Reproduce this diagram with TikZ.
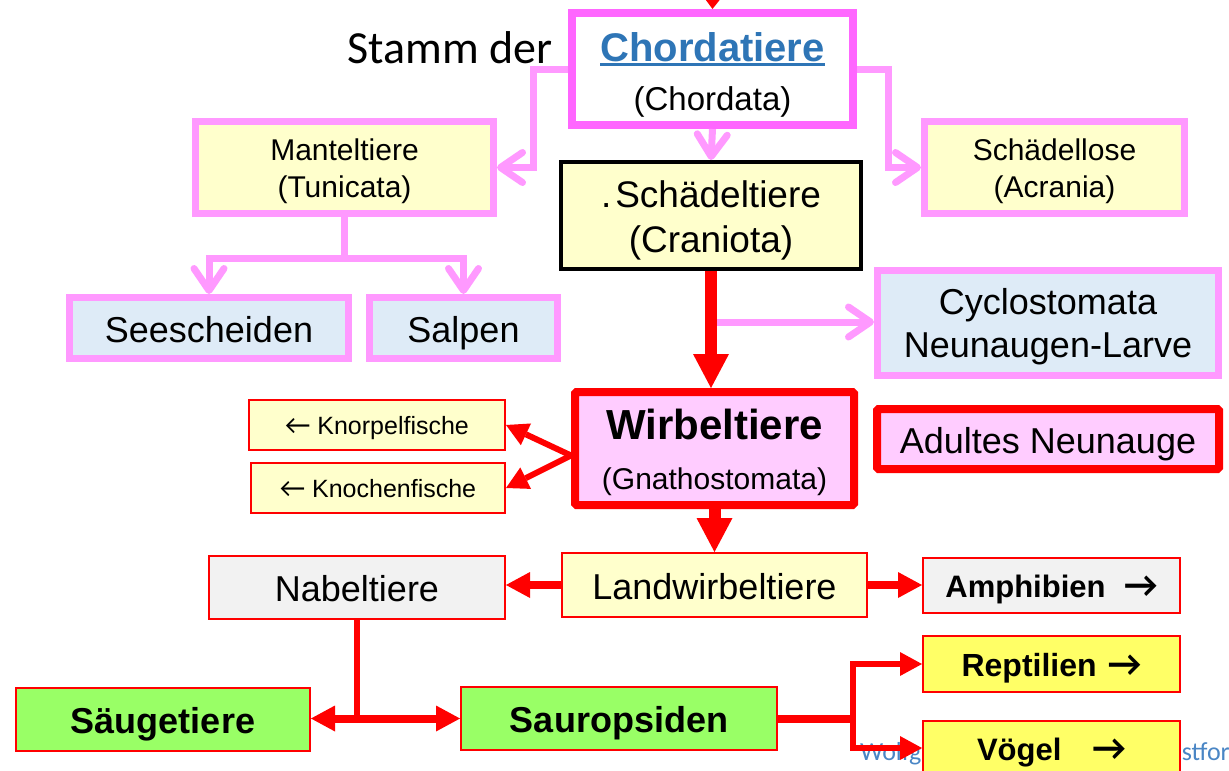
\documentclass[tikz,border=0pt]{standalone}
\usepackage{fontspec}
\setmainfont{Liberation Sans}
\newfontfamily\calib{Carlito}
\usetikzlibrary{arrows.meta,calc}
\definecolor{magc}{HTML}{FF66FF}
\definecolor{pinkc}{HTML}{FF99FF}
\definecolor{lyel}{HTML}{FFFFCC}
\definecolor{lblue}{HTML}{DEEBF7}
\definecolor{lpink}{HTML}{FFCCFF}
\definecolor{lgray}{HTML}{F2F2F2}
\definecolor{yel}{HTML}{FFFF66}
\definecolor{grn}{HTML}{99FF66}
\definecolor{chblue}{HTML}{2E75B6}
\definecolor{footblue}{HTML}{4A86C5}
\newcommand\fs[2]{\fontsize{#1pt}{#2pt}\selectfont}
\newcommand\myul[1]{\setbox0\hbox{#1}\rlap{\rule[-5pt]{\wd0}{3pt}}\box0}
\newcommand\dn[1]{\rule{0pt}{#1pt}}
\newcommand\rarr{{\calib\bfseries\fs{37}{37}→}}
\newcommand\larr{{\calib\fs{28}{28}←}}
\begin{document}
\begin{tikzpicture}[x=1pt,y=-1pt,
  bx/.style={rectangle, align=center, inner sep=0pt},
  one/.style={text height=#1, text depth=0pt},
  pinkbox/.style={bx, draw=pinkc, line width=7pt},
  magbox/.style={bx, draw=magc, line width=8pt, fill=white},
  blackbox/.style={bx, draw=black, line width=4pt, fill=lyel},
  redthick/.style={bx, draw=red, line width=8pt, fill=lpink, rounded corners=1.5pt},
  redthin/.style={bx, draw=red, line width=2pt},
  pinkarr/.style={draw=pinkc, line width=7pt, -{Straight Barb[length=22pt,width=30pt,round]}},
  pinkline/.style={draw=pinkc, line width=7pt},
  redbig/.style={draw=red, line width=12pt, -{Triangle[length=34pt,width=36pt,line width=0pt]}},
  redmid/.style={draw=red, line width=8pt, -{Triangle[length=24pt,width=26pt,line width=0pt]}},
  redsm/.style={draw=red, line width=6pt, -{Triangle[length=22pt,width=24pt,line width=0pt]}},
  redline/.style={draw=red, line width=6pt},
  redline8/.style={draw=red, line width=8pt},
  tx/.style={inner sep=0pt}
]
\useasboundingbox (0,0) rectangle (1229,771);
\fill[white] (0,0) rectangle (1229,771);

% footer text (partly hidden)
\node[tx, anchor=base west, font=\calib\fs{26}{30}, text=footblue] (foot1) at (860,760) {Wolfg};
\node[tx, anchor=base east, font=\calib\fs{26}{30}, text=footblue] (foot2) at (1230,760) {stfor};

% title text
\node[tx, anchor=base, font=\calib\fs{46}{56}] (stamm) at (450,63) {Stamm der};

% boxes
\node[magbox, minimum width=281pt, minimum height=112pt, font=\fs{33}{49}] (chord) at (712.5,69)
  {\dn{40}{\fs{40}{49}\bfseries\color{chblue}\myul{Chordatiere}}\\(Chordata)};
\node[pinkbox, fill=lyel, minimum width=298pt, minimum height=92pt, font=\fs{30}{37}] (mantel) at (344.5,167.5)
  {\dn{30}Manteltiere\\(Tunicata)};
\node[pinkbox, fill=lyel, minimum width=260pt, minimum height=92pt, font=\fs{30}{37}] (lose) at (1054.5,167.5)
  {\dn{30}Schädellose\\(Acrania)};
\node[blackbox, minimum width=300pt, minimum height=107pt, font=\fs{37}{45}] (schaedel) at (711,215.5)
  {\dn{37}.\kern4pt Schädeltiere\\(Craniota)};
\node[pinkbox, one=28pt, fill=lblue, minimum width=279pt, minimum height=61pt, font=\fs{36}{42}] (seesch) at (209,328)
  {Seescheiden};
\node[pinkbox, one=28pt, fill=lblue, minimum width=188pt, minimum height=61pt, font=\fs{36}{42}] (salpen) at (463.5,328)
  {Salpen};
\node[pinkbox, fill=lblue, minimum width=341pt, minimum height=105pt, font=\fs{36}{43}] (cyclo) at (1048,323)
  {\dn{34}Cyclostomata\\Neunaugen-Larve};
\node[redthick, minimum width=279pt, minimum height=113pt, font=\fs{30}{50}] (wirbel) at (714.5,448.5)
  {\dn{39}{\fs{42}{50}\bfseries Wirbeltiere}\\(Gnathostomata)};
\node[redthick, one=28pt, minimum width=342pt, minimum height=60pt, font=\fs{36}{42}] (adult) at (1048,439)
  {Adultes Neunauge};
\node[redthin, one=19.5pt, fill=lyel, minimum width=256pt, minimum height=50pt, font=\fs{25}{30}] (knorpel) at (377,425)
  {\larr\ Knorpelfische};
\node[redthin, one=19.5pt, fill=lyel, minimum width=254pt, minimum height=50pt, font=\fs{25}{30}] (knochen) at (378,488)
  {\larr\ Knochenfische};
\node[redthin, one=28pt, fill=lyel, minimum width=305pt, minimum height=64pt, font=\fs{36}{42}] (land) at (714.5,585)
  {Landwirbeltiere};
\node[redthin, one=28pt, fill=lgray, minimum width=296pt, minimum height=63pt, font=\fs{36}{42}] (nabel) at (357,587.5)
  {Nabeltiere};
\node[redthin, one=24pt, fill=lgray, minimum width=257pt, minimum height=55pt, font=\fs{31}{36}\bfseries] (amph) at (1051.5,585.5)
  {Amphibien\hspace{0.6em}\rarr};
\node[redthin, one=25pt, fill=yel, minimum width=257pt, minimum height=56pt, font=\fs{32}{36}\bfseries] (rept) at (1051.5,664)
  {Reptilien\hspace{0.35em}\rarr};
\node[redthin, one=24pt, fill=yel, minimum width=257pt, minimum height=54pt, font=\fs{31}{36}\bfseries] (voegel) at (1051.5,748)
  {Vögel\hspace{1em}\rarr};
\node[redthin, one=28pt, fill=grn, minimum width=294pt, minimum height=63pt, font=\fs{36}{42}\bfseries] (saeuge) at (163,719.5)
  {Säugetiere};
\node[redthin, one=28pt, fill=grn, minimum width=316pt, minimum height=63pt, font=\fs{36}{42}\bfseries] (saur) at (619,718.5)
  {Sauropsiden};

% connectors
\coordinate (topin) at (713,-20);
\draw[draw=red, line width=5pt, -{Triangle[length=17pt,width=26pt,line width=0pt]}] (topin) -- (chord.north);

\draw[pinkarr] (chord.west) -- ++(-35,0) |- (mantel.east);
\draw[pinkarr] (chord.east) -- ++(31,0) |- (lose.west);
\draw[pinkarr] (chord.south) -- (schaedel.north);

\draw[pinkline] (mantel.south) -- ++(0,41) coordinate (mjoin);
\draw[pinkarr] (mjoin) -| (seesch.north);
\draw[pinkarr] (mjoin) -| (salpen.north);

\coordinate (cyfrom) at (717,322);
\draw[pinkarr] (cyfrom) -- (cyfrom -| cyclo.west);
\draw[redbig] (schaedel.south) -- (schaedel.south |- wirbel.north);

\draw[redsm] ([yshift=-7pt]wirbel.west) -- (knorpel.east);
\draw[redsm] ([yshift=-7pt]wirbel.west) -- (knochen.east);
\draw[redbig] (wirbel.south) -- (wirbel.south |- land.north);

\draw[redmid] (land.west) -- (land.west -| nabel.east);
\draw[redmid] (land.east) -- (land.east -| amph.west);

\draw[redline] (nabel.south) -- (nabel.south |- saur.west) coordinate (njoin);
\draw[redmid] (njoin) -- (njoin -| saeuge.east);
\draw[redmid] (njoin) -- (saur.west);

\draw[redline8] (saur.east) -- ++(75,0) coordinate (sjoin);
\draw[redline] (sjoin |- rept.west) -- (sjoin |- voegel.west);
\draw[redsm] ([xshift=-3pt]sjoin |- rept.west) -- (rept.west);
\draw[redsm] ([xshift=-3pt]sjoin |- voegel.west) -- (voegel.west);
\end{tikzpicture}
\end{document}
